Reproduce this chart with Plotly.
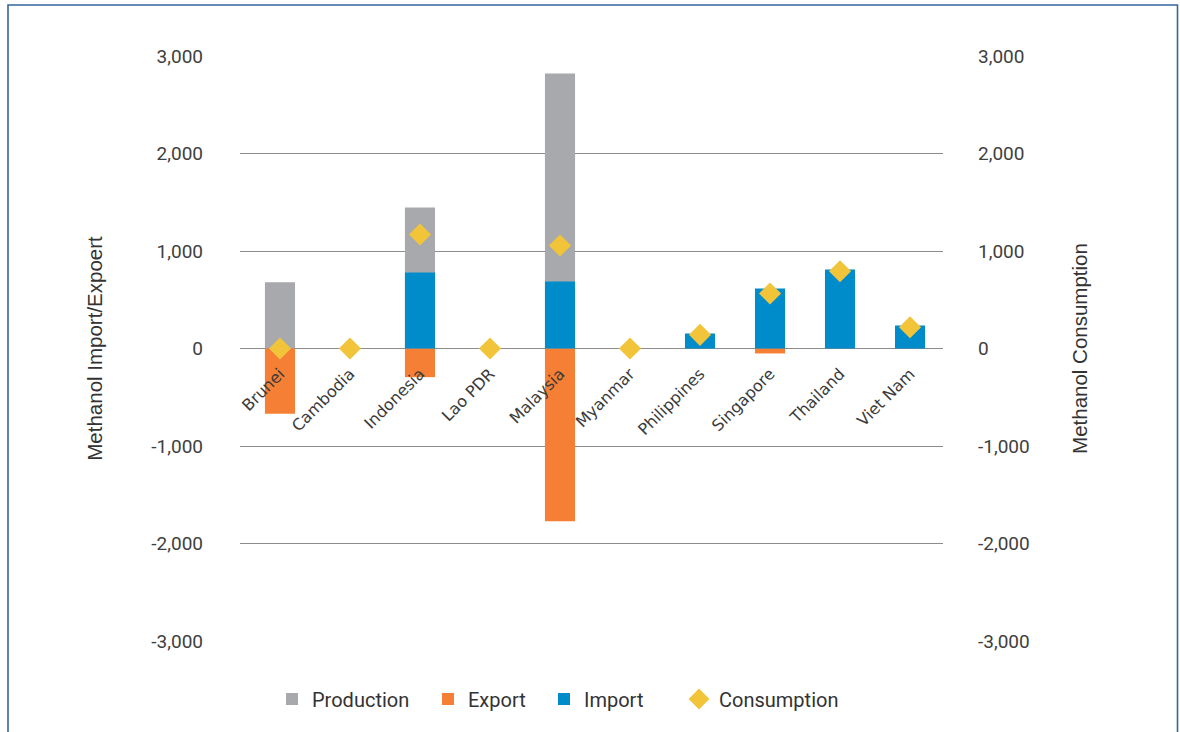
import plotly.graph_objects as go

countries = ["Brunei", "Cambodia", "Indonesia", "Lao PDR", "Malaysia", "Myanmar",
             "Philippines", "Singapore", "Thailand", "Viet Nam"]
production = [680, 0, 1446, 0, 2820, 0, 0, 0, 0, 0]
export = [-670, 0, -294, 0, -1771, 0, 0, -51, 0, 0]
imports = [0, 0, 779, 0, 687, 0, 154, 615, 810, 236]
consumption = [0, 0, 1169, 0, 1056, 0, 140, 564, 793, 218]
y_ticks = [-3000, -2000, -1000, 0, 1000, 2000, 3000]
y_labels = ["-3,000", "-2,000", "-1,000", "0", "1,000", "2,000", "3,000"]

GRAY = "#A7A9AC"
ORANGE = "#F47F35"
BLUE = "#008BCA"
YELLOW = "#F2C43A"

L, R, T, B = 240, 237, 56, 91
W, H = 1180, 732
pw, ph = W - L - R, H - T - B


def px_x(x):
    return (x - L) / pw


def px_y(y):
    return 1 - (y - T) / ph


fig = go.Figure()
fig.add_trace(go.Bar(x=countries, y=production, name="Production", legend="legend",
                     marker=dict(color=GRAY, line=dict(width=0)), width=0.43))
fig.add_trace(go.Bar(x=countries, y=export, name="Export", legend="legend2",
                     marker=dict(color=ORANGE, line=dict(width=0)), width=0.43))
fig.add_trace(go.Bar(x=countries, y=imports, name="Import", legend="legend3",
                     marker=dict(color=BLUE, line=dict(width=0)), width=0.43))
fig.add_trace(go.Scatter(x=countries, y=consumption, name="Consumption", mode="markers",
                         yaxis="y2", legend="legend4",
                         marker=dict(symbol="diamond", size=17, color=YELLOW,
                                     line=dict(width=0))))

legfont = dict(family="Roboto, sans-serif", size=20, color="#333333")


def leg(text_start_px):
    return dict(orientation="h", x=px_x(text_start_px - 40), xanchor="left",
                y=px_y(699), yanchor="middle", font=legfont,
                bgcolor="rgba(0,0,0,0)", borderwidth=0)


tickfont = dict(family="Roboto, sans-serif", size=19, color="#404040")
titlefont = dict(family="Liberation Sans, Arial, sans-serif", size=20.5, color="#333333")

fig.update_layout(
    width=W, height=H,
    margin=dict(l=L, r=R, t=T, b=B, autoexpand=False),
    paper_bgcolor="white", plot_bgcolor="white",
    barmode="overlay",
    showlegend=True,
    legend=leg(312), legend2=leg(468), legend3=leg(584), legend4=leg(719),
    xaxis=dict(range=[-0.571, 9.471], anchor="free", position=0.5,
               showgrid=False, showline=False, zeroline=False, ticks="",
               tickangle=-45, ticklabelstandoff=12,
               tickfont=dict(family="DejaVu Sans, Verdana, sans-serif", size=16, color="#3a3a3a")),
    yaxis=dict(range=[-3000, 3000], tickvals=y_ticks, ticktext=y_labels,
               showgrid=True, gridcolor="#8C8C8C", gridwidth=1,
               zeroline=True, zerolinecolor="#8C8C8C", zerolinewidth=1,
               showline=False, ticks="", ticklabelstandoff=36,
               tickfont=tickfont,
               title=dict(text="Methanol Import/Expoert", standoff=43, font=titlefont)),
    yaxis2=dict(range=[-3000, 3000], tickvals=y_ticks, ticktext=y_labels,
                overlaying="y", side="right", showgrid=False, zeroline=False,
                showline=False, ticks="", ticklabelstandoff=34,
                tickfont=tickfont,
                title=dict(text="Methanol Consumption", standoff=43, font=titlefont)),
)

fig.add_shape(type="rect", xref="paper", yref="paper",
              x0=px_x(8), x1=px_x(1177.5), y0=px_y(760), y1=px_y(5),
              line=dict(color="#3465A0", width=1.6), fillcolor="rgba(0,0,0,0)", layer="above")

fig.write_html("out.html", config={"displayModeBar": False},
               post_script="document.body.style.margin='0';document.body.style.overflow='hidden';")
